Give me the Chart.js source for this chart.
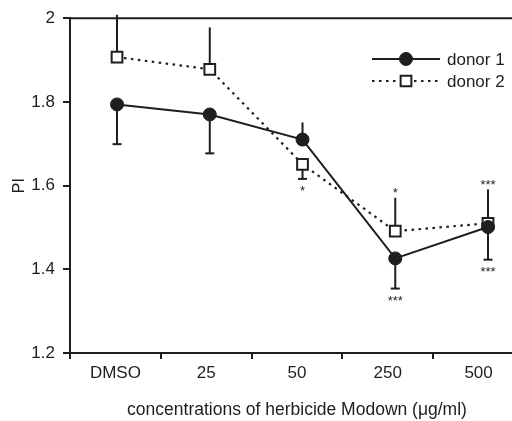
<!DOCTYPE html>
<html>
<head>
<meta charset="utf-8">
<script src="https://cdn.jsdelivr.net/npm/chart.js@4/dist/chart.umd.min.js"></script>
<style>
html,body{margin:0;padding:0;background:#fff;overflow:hidden;}
#wrap{width:540px;height:421px;}
</style>
</head>
<body>
<div id="wrap"><canvas id="c" width="540" height="421"></canvas></div>
<script>
const categories = ["DMSO", "25", "50", "250", "500"];
const seriesNames = ["donor 1", "donor 2"];
const donor1 = [1.794, 1.770, 1.710, 1.426, 1.501];
const donor2 = [1.907, 1.878, 1.651, 1.491, 1.510];
// signed error bar extents (one-sided bars)
const donor1Err = [-0.095, -0.093, 0.041, -0.072, -0.078];
const donor2Err = [0.101, 0.100, -0.035, 0.080, 0.081];
const donor1Sig = ["", "", "", "***", "***"];
const donor2Sig = ["", "", "*", "*", "***"];
const yTicks = [1.2, 1.4, 1.6, 1.8, 2.0];
const yLabel = "PI";
const xLabel = "concentrations of herbicide Modown (\u03bcg/ml)";

const INK = "#1e1e1e";
const FONT = "'Liberation Sans', Arial, Helvetica, sans-serif";

const errs = [donor1Err, donor2Err];
const sigs = [donor1Sig, donor2Sig];

const errorBars = {
  id: "errorBars",
  beforeDatasetsDraw(chart) {
    const ctx = chart.ctx;
    const xs = chart.scales.xd, ys = chart.scales.y;
    ctx.save();
    ctx.strokeStyle = INK;
    ctx.fillStyle = INK;
    ctx.lineWidth = 2;
    chart.data.datasets.forEach((ds, i) => {
      ds.data.forEach((pt, j) => {
        const e = errs[i][j];
        const px = xs.getPixelForValue(pt.x);
        const py = ys.getPixelForValue(pt.y);
        const pe = ys.getPixelForValue(pt.y + e);
        ctx.beginPath();
        ctx.moveTo(px, py);
        ctx.lineTo(px, pe);
        ctx.stroke();
        if (e < 0) {
          ctx.beginPath();
          ctx.moveTo(px - 4.5, pe);
          ctx.lineTo(px + 4.5, pe);
          ctx.stroke();
        }
        const s = sigs[i][j];
        if (s) {
          ctx.font = "13px " + FONT;
          ctx.textAlign = "center";
          ctx.textBaseline = "alphabetic";
          const cy = e < 0 ? pe + 9 : pe - 8;
          ctx.fillText(s, px, cy + 7.5);
        }
      });
    });
    ctx.restore();
  },
  afterDraw(chart) {
    const ctx = chart.ctx;
    const a = chart.chartArea;
    ctx.save();
    ctx.strokeStyle = INK;
    ctx.lineWidth = 2;
    ctx.beginPath();
    ctx.moveTo(a.left - 1, a.top);
    ctx.lineTo(chart.width, a.top);
    ctx.stroke();
    // legend
    const lx0 = 372, lx1 = 440, mx = 406;
    const rows = [59, 81];
    chart.data.datasets.forEach((ds, i) => {
      const y = rows[i];
      ctx.save();
      ctx.lineWidth = 2;
      ctx.strokeStyle = INK;
      if (ds.borderDash && ds.borderDash.length) ctx.setLineDash(ds.borderDash);
      ctx.beginPath();
      ctx.moveTo(lx0, y);
      ctx.lineTo(lx1, y);
      ctx.stroke();
      ctx.restore();
      ctx.save();
      ctx.fillStyle = ds.pointBackgroundColor;
      ctx.strokeStyle = INK;
      ctx.lineWidth = ds.pointBorderWidth;
      ctx.beginPath();
      if (ds.pointStyle === "circle") {
        ctx.arc(mx, y, ds.pointRadius, 0, Math.PI * 2);
      } else {
        const h = ds.pointRadius * Math.SQRT1_2;
        ctx.rect(mx - h, y - h, 2 * h, 2 * h);
      }
      ctx.fill();
      ctx.stroke();
      ctx.restore();
      ctx.fillStyle = INK;
      ctx.font = "17px " + FONT;
      ctx.textAlign = "left";
      ctx.textBaseline = "middle";
      ctx.fillText(ds.label, 447, y + 1);
    });
    ctx.restore();
  }
};

const toPts = arr => arr.map((v, i) => ({ x: i, y: v }));

new Chart(document.getElementById("c"), {
  type: "line",
  data: {
    datasets: [
      {
        label: seriesNames[0],
        data: toPts(donor1),
        xAxisID: "xd",
        borderColor: INK,
        borderWidth: 2,
        pointStyle: "circle",
        pointRadius: 6.5,
        pointBackgroundColor: INK,
        pointBorderColor: INK,
        pointBorderWidth: 1,
        tension: 0,
        clip: false
      },
      {
        label: seriesNames[1],
        data: toPts(donor2),
        xAxisID: "xd",
        borderColor: INK,
        borderWidth: 2.2,
        borderDash: [2.5, 4.5],
        pointStyle: "rect",
        pointRadius: 7.6,
        pointBackgroundColor: "#ffffff",
        pointBorderColor: INK,
        pointBorderWidth: 2,
        tension: 0,
        clip: false
      }
    ]
  },
  options: {
    responsive: false,
    animation: false,
    layout: { padding: { top: 18, right: 16, bottom: 0, left: 0 } },
    plugins: { legend: { display: false }, tooltip: { enabled: false } },
    scales: {
      x: {
        type: "category",
        labels: categories,
        offset: true,
        position: "bottom",
        grid: { offset: true, drawOnChartArea: false, drawTicks: true, tickLength: 6, color: INK, lineWidth: 2 },
        border: { display: true, color: INK, width: 2 },
        ticks: { color: INK, font: { family: FONT, size: 17 }, padding: 4, maxRotation: 0, autoSkip: false },
        title: { display: true, text: xLabel, color: INK, font: { family: FONT, size: 17.5 }, padding: { top: 0, bottom: 0 } },
        afterFit(s) { s.height = 68; }
      },
      xd: {
        type: "linear",
        display: false,
        min: -0.507,
        max: 4.388
      },
      y: {
        type: "linear",
        min: 1.2,
        max: 2.0,
        afterBuildTicks(s) { s.ticks = yTicks.map(v => ({ value: v })); },
        grid: { drawOnChartArea: false, drawTicks: true, tickLength: 7, color: INK, lineWidth: 2 },
        border: { display: true, color: INK, width: 2 },
        ticks: { color: INK, font: { family: FONT, size: 17 }, padding: 8, callback: v => String(+Number(v).toFixed(1)) },
        title: { display: true, text: yLabel, color: INK, font: { family: FONT, size: 16 }, padding: { top: 10, bottom: 0 } },
        afterFit(s) { s.width = 70; }
      }
    }
  },
  plugins: [errorBars]
});
</script>
</body>
</html>
